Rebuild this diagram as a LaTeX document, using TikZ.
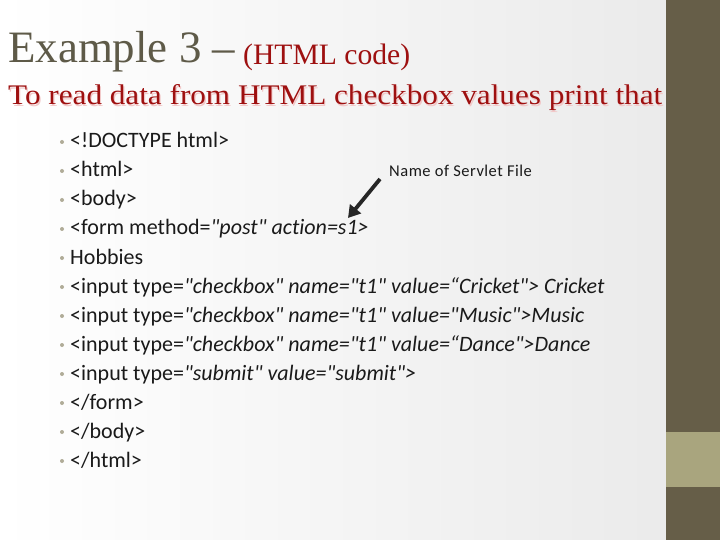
\documentclass[tikz,border=0pt]{standalone}
\usepackage{fontspec}
\setmainfont{Carlito}
\newfontfamily\bodyfont{Carlito}[Ligatures=CommonOff]
\newfontfamily\titlefont{Liberation Serif}
\usetikzlibrary{arrows.meta}
\definecolor{barDark}{HTML}{665E48}
\definecolor{barLight}{HTML}{A9A57E}
\definecolor{titleGray}{HTML}{5E5A48}
\definecolor{titleRed}{HTML}{9E1010}
\definecolor{shadowPink}{HTML}{F2C8C8}
\definecolor{bulletGray}{HTML}{B0AC98}
\definecolor{bodyText}{HTML}{1A1A1A}
\tikzset{
  codeline/.style={anchor=base west, inner sep=0pt, text=bodyText, font=\bodyfont\fontsize{22}{26}\selectfont},
  bulletdot/.style={circle, fill=bulletGray, inner sep=0pt, minimum size=4pt},
  notelabel/.style={anchor=base west, inner sep=0pt, text=bodyText, font=\bodyfont\fontsize{16.5}{19}\selectfont\addfontfeature{LetterSpace=3}},
  pointer/.style={line width=3.8pt, draw=black!85, -{Triangle[length=12pt,width=14pt]}}
}
\begin{document}
\begin{tikzpicture}[x=1pt,y=-1pt]
\useasboundingbox (0,0) rectangle (720,540);
% background
\shade[left color=white, right color=black!8] (0,0) rectangle (666,540);
\fill[barDark] (666,0) rectangle (720,540);
\fill[barLight] (666,432) rectangle (720,487);
% title
\node[anchor=base west, inner sep=0pt, text=titleGray, font=\titlefont\fontsize{46}{50}\selectfont] (t1) at (8,63) {\resizebox{227pt}{!}{Example 3 –}};
\node[anchor=base west, inner sep=0pt, text=titleRed, font=\titlefont\fontsize{31}{34}\selectfont] (t2) at (243,65) {\resizebox{167pt}{!}{(HTML code)}};
\node[anchor=base west, inner sep=0pt, text=shadowPink, font=\titlefont\fontsize{29}{32}\selectfont] (t3s) at (9.2,106.2) {\resizebox{654pt}{20pt}{To read data from HTML checkbox values print that}};
\node[anchor=base west, inner sep=0pt, text=titleRed, font=\titlefont\fontsize{29}{32}\selectfont] (t3) at (8,105) {\resizebox{654pt}{20pt}{To read data from HTML checkbox values print that}};
% bullets and code lines
\foreach \i/\txt in {
 1/{<!DOCTYPE html>},
 2/{<html>},
 3/{<body>},
 4/{<form method=\textit{"post" action=s1>}},
 5/{Hobbies},
 6/{<input type=\textit{"checkbox" name="t1" value=“Cricket"> Cricket}},
 7/{<input type=\textit{"checkbox" name="t1" value="Music">Music}},
 8/{<input type=\textit{"checkbox" name="t1" value=“Dance">Dance}},
 9/{<input type=\textit{"submit" value="submit">}},
 10/{</form>},
 11/{</body>},
 12/{</html>}}{
  \node[bulletdot] (b\i) at (62,{148+29*(\i-1)-6}) {};
  \node[codeline] (l\i) at (70,{148+29*(\i-1)}) {\txt};
}
% note and arrow
\node[notelabel] (note) at (389,177) {Name of Servlet File};
\coordinate (arrstart) at (380,179);
\coordinate (arrtip) at (348,218);
\draw[pointer] (arrstart) -- (arrtip);
\end{tikzpicture}
\end{document}
